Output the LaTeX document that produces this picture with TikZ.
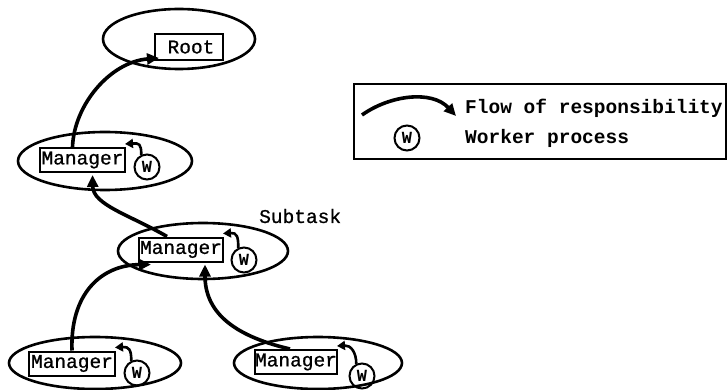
\documentclass[tikz,border=0pt]{standalone}
\usepackage{fontspec}
\newfontfamily\cour{Liberation Mono}
\newfontfamily\courthick[FakeBold=0.8]{Liberation Mono}
\usetikzlibrary{shapes.geometric,arrows.meta}
\begin{document}
\begin{tikzpicture}[x=1pt,y=-1pt,
  group/.style={draw,ellipse,line width=2.6pt,inner sep=0pt},
  proc/.style={draw,line width=2pt,inner sep=0pt,minimum height=24pt,
    font=\courthick\fontsize{19.5}{19.5}\selectfont},
  worker/.style={draw,circle,line width=2pt,inner sep=0pt,minimum size=25pt,
    font=\cour\bfseries\fontsize{17}{17}\selectfont},
  flow/.style={line width=3.6pt,-{Triangle[length=12pt,width=11pt]}},
  wflow/.style={line width=2.6pt,-{Triangle[length=8pt,width=9pt]}},
  label/.style={inner sep=0pt,anchor=west,font=\courthick\fontsize{19.5}{19.5}\selectfont},
  legendtext/.style={inner sep=0pt,anchor=west,font=\cour\bfseries\fontsize{19.5}{19.5}\selectfont}]
\useasboundingbox (0,0) rectangle (727,390);

% groups
\node[group,minimum width=152pt,minimum height=60pt] (e0) at (179,39) {};
\node[group,minimum width=174pt,minimum height=58pt] (e1) at (105,161) {};
\node[group,minimum width=170pt,minimum height=56pt] (e2) at (203,251) {};
\node[group,minimum width=172pt,minimum height=52pt] (e3) at (95,363) {};
\node[group,minimum width=168pt,minimum height=52pt] (e4) at (318,363) {};

% processes
\node[proc,minimum width=68pt,minimum height=26pt] (root) at (189,47) {\hspace*{4pt}Root};
\node[proc,minimum width=85pt] (m1) at (82.5,160) {Manager};
\node[proc,minimum width=84pt] (m2) at (181,249.5) {Manager};
\node[proc,minimum width=86pt] (m3) at (72,363.5) {Manager};
\node[proc,minimum width=82pt] (m4) at (296,362) {Manager};

% workers
\node[worker] (w1) at (147,167) {W};
\node[worker] (w2) at (244,260) {W};
\node[worker] (w3) at (137,373) {W};
\node[worker] (w4) at (362,376) {W};

\node[label] (sub) at (259,216) {Subtask};

% flow of responsibility between managers
\draw[flow] ([xshift=-10pt]m1.north) .. controls (74,105) and (110,62) .. ([xshift=5pt,yshift=3pt]root.south west);
\draw[flow] ([xshift=-14pt]m2.north) .. controls (130,215) and (93,205) .. ([xshift=10pt,yshift=-2pt]m1.south);
\draw[flow] ([xshift=0pt]m3.north) .. controls (70,295) and (100,265) .. ([xshift=-30pt,yshift=-2pt]m2.south);
\draw[flow] ([xshift=-6pt]m4.north) .. controls (230,335) and (205,310) .. ([xshift=24pt,yshift=-2pt]m2.south);

% workers hand back to their manager
\foreach \w/\m in {w1/m1,w2/m2,w3/m3,w4/m4}{
  \draw[wflow] (\w.115) .. controls ([yshift=11pt]\w.115) and ([xshift=13pt,yshift=4pt]\m.north east) .. ([xshift=-1pt,yshift=3pt]\m.north east);
}

% legend
\node[draw,line width=1.8pt,minimum width=372pt,minimum height=75pt,inner sep=0pt,anchor=north west] (legend) at (353,83) {};
\coordinate (la) at (362,115);
\coordinate (lb) at (456,116);
\draw[flow] (la) .. controls (390,95) and (432,90) .. (lb);
\node[legendtext] (lt1) at (465,108) {Flow of responsibility};
\node[worker] (wl) at (407,138) {W};
\node[legendtext] (lt2) at (465,138) {Worker process};
\end{tikzpicture}
\end{document}
